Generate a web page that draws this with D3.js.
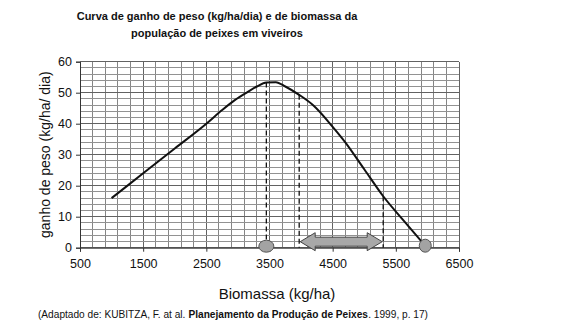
<!DOCTYPE html>
<html>
<head>
<meta charset="utf-8">
<script src="https://cdn.jsdelivr.net/npm/d3@7"></script>
<style>
  html, body { margin: 0; padding: 0; background: #fff; }
  svg { display: block; font-family: "Liberation Sans", Arial, sans-serif; }
</style>
</head>
<body>
<svg id="chart" width="566" height="329"></svg>
<script>
// Biomassa (kg/ha) and daily weight gain (kg/ha/dia) along the curve
const biomassa = [1000, 1500, 2000, 2500, 2750, 2950, 3150, 3300, 3450, 3600, 3750, 3970, 4200, 4500, 4700, 5000, 5300, 5600, 5950];
const ganho    = [16,   24,   32,   40,   44.4, 47.6, 50.2, 52,   53.3, 53.4, 52,   49.3, 45.8, 39,   34,   25.3, 16.6, 9.3,  1];

// Tick labels
const xTicks = [500, 1500, 2500, 3500, 4500, 5500, 6500];
const yTicks = [0, 10, 20, 30, 40, 50, 60];

// Marked biomass levels: peak gain, optimal range start/end, and zero gain
const pontoMaximo = 3450;
const faixaInicio = 3970;
const faixaFim = 5300;
const pontoZero = 5950;

const svg = d3.select("#chart");

const x = d3.scaleLinear().domain([500, 6500]).range([80, 459]);
const y = d3.scaleLinear().domain([0, 60]).range([247.7, 61.7]);

// Graph-paper grid
const grid = svg.append("g");
grid.selectAll("line.v")
  .data(d3.range(500, 6501, 200))
  .join("line")
  .attr("x1", d => x(d)).attr("x2", d => x(d))
  .attr("y1", y(60)).attr("y2", y(0))
  .attr("stroke", d => (d - 500) % 1000 === 0 ? "#626262" : "#858585")
  .attr("stroke-width", 1)
  .attr("shape-rendering", "crispEdges");
grid.selectAll("line.h")
  .data(d3.range(0, 61, 2))
  .join("line")
  .attr("x1", x(500)).attr("x2", x(6500))
  .attr("y1", d => y(d)).attr("y2", d => y(d))
  .attr("stroke", d => d % 10 === 0 ? "#626262" : "#929292")
  .attr("stroke-width", 1)
  .attr("shape-rendering", "crispEdges");

// Axes
const xAxis = svg.append("g")
  .attr("transform", `translate(0,${y(0)})`)
  .call(d3.axisBottom(x).tickValues(xTicks).tickSize(4).tickPadding(7).tickFormat(d3.format("d")));
const yAxis = svg.append("g")
  .attr("transform", `translate(${x(500)},0)`)
  .call(d3.axisLeft(y).tickValues(yTicks).tickSize(4).tickPadding(4));
[xAxis, yAxis].forEach(a => {
  a.select(".domain").attr("stroke", "#333");
  a.selectAll(".tick line").attr("stroke", "#333");
  a.selectAll(".tick text")
    .attr("fill", "#111")
    .style("font-family", "'Liberation Sans', Arial, sans-serif")
    .style("font-size", "12.5px");
});

// Dashed reference lines from the curve down to the axis
const ganhoEm = v => {
  const i = d3.bisectLeft(biomassa, v);
  if (biomassa[i] === v) return ganho[i];
  const t = (v - biomassa[i - 1]) / (biomassa[i] - biomassa[i - 1]);
  return ganho[i - 1] + t * (ganho[i] - ganho[i - 1]);
};
svg.selectAll("line.ref")
  .data([pontoMaximo, faixaInicio, faixaFim])
  .join("line")
  .attr("x1", d => x(d)).attr("x2", d => x(d))
  .attr("y1", d => y(ganhoEm(d))).attr("y2", y(0))
  .attr("stroke", "#111")
  .attr("stroke-width", 1.3)
  .attr("stroke-dasharray", "5,3");

// Curve
svg.append("path")
  .datum(biomassa.map((b, i) => [b, ganho[i]]))
  .attr("fill", "none")
  .attr("stroke", "#111")
  .attr("stroke-width", 2)
  .attr("stroke-linejoin", "round")
  .attr("d", d3.line().x(d => x(d[0])).y(d => y(d[1])).curve(d3.curveMonotoneX));

// Ellipse markers at peak and at zero gain
svg.append("ellipse")
  .attr("cx", x(pontoMaximo)).attr("cy", y(0) - 1.5)
  .attr("rx", 7.5).attr("ry", 6)
  .attr("fill", "#a3a3a3").attr("stroke", "#555").attr("stroke-width", 1);
svg.append("ellipse")
  .attr("cx", x(pontoZero) + 1).attr("cy", y(0) - 2)
  .attr("rx", 6).attr("ry", 6.5)
  .attr("fill", "#a3a3a3").attr("stroke", "#555").attr("stroke-width", 1);

// Double-headed block arrow for the optimal range
const ax0 = x(faixaInicio) + 1, ax1 = x(faixaFim) - 1, ac = y(0) - 6;
const head = 15, hh = 9, sh = 4.5;
const arrowPts = [
  [ax0, ac], [ax0 + head, ac - hh], [ax0 + head, ac - sh], [ax1 - head, ac - sh],
  [ax1 - head, ac - hh], [ax1, ac], [ax1 - head, ac + hh], [ax1 - head, ac + sh],
  [ax0 + head, ac + sh], [ax0 + head, ac + hh]
];
svg.append("polygon")
  .attr("points", arrowPts.map(p => p.join(",")).join(" "))
  .attr("fill", "#a8a8a8").attr("stroke", "#444").attr("stroke-width", 1);

// Title
const title = svg.append("text")
  .attr("text-anchor", "middle")
  .attr("font-weight", "bold")
  .attr("font-size", "11px")
  .attr("fill", "#111");
title.append("tspan").attr("x", 217).attr("y", 20).text("Curva de ganho de peso (kg/ha/dia) e de biomassa da");
title.append("tspan").attr("x", 217).attr("y", 37).text("população de peixes em viveiros");

// Axis titles
svg.append("text")
  .attr("transform", `translate(50,${(y(0) + y(60)) / 2}) rotate(-90)`)
  .attr("text-anchor", "middle")
  .attr("font-size", "14px")
  .attr("fill", "#111")
  .text("ganho de peso (kg/ha/ dia)");
svg.append("text")
  .attr("x", 277).attr("y", 299)
  .attr("text-anchor", "middle")
  .attr("font-size", "15px")
  .attr("fill", "#111")
  .text("Biomassa (kg/ha)");

// Source note: three runs laid end to end, then condensed horizontally to fit
const partesFonte = [
  { t: "(Adaptado de: KUBITZA, F. at al. ", bold: false },
  { t: "Planejamento da Produção de Peixes", bold: true },
  { t: ". 1999, p. 17)", bold: false }
];
const fonteG = svg.append("g");
let cursor = 0;
partesFonte.forEach(p => {
  const el = fonteG.append("text")
    .attr("x", cursor).attr("y", 0)
    .attr("font-size", "11px")
    .attr("font-weight", p.bold ? "bold" : "normal")
    .attr("fill", "#111")
    .style("white-space", "pre")
    .text(p.t);
  cursor += el.node().getComputedTextLength();
});
const escala = 390 / cursor;
fonteG.attr("transform", `translate(38,318) scale(${escala},1)`);
</script>
</body>
</html>
